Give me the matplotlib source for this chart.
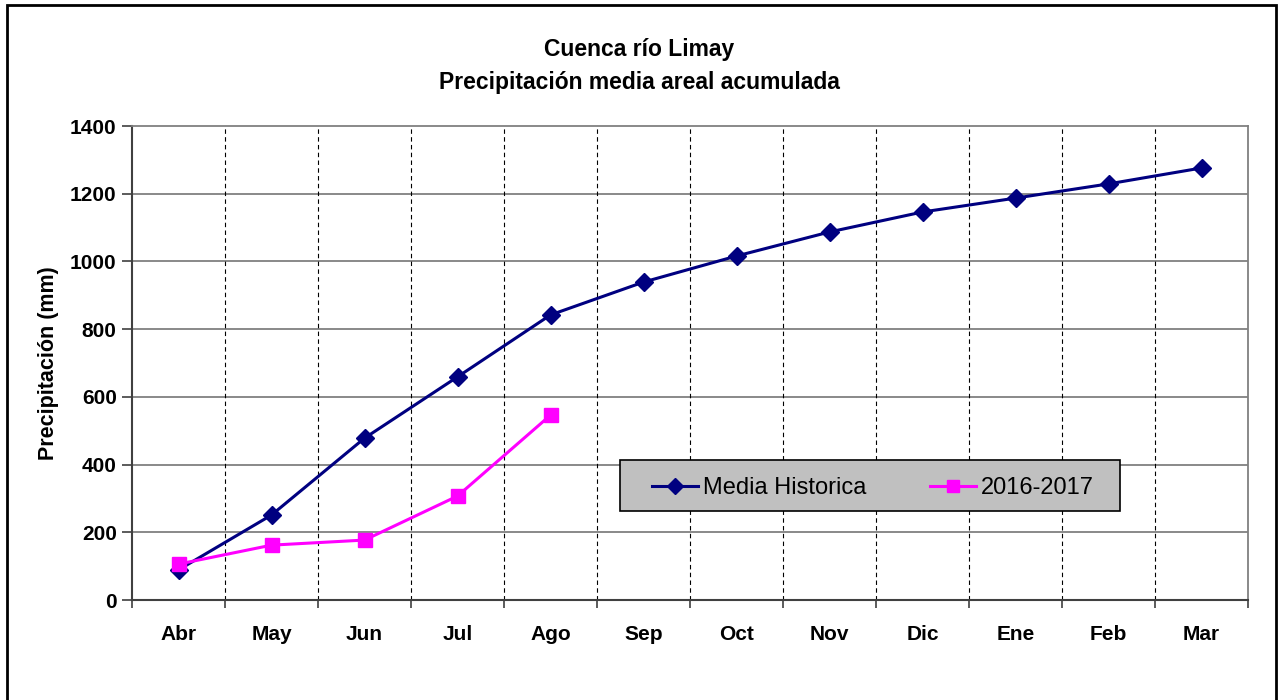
import matplotlib
matplotlib.use("Agg")
import matplotlib.pyplot as plt
from matplotlib.patches import Rectangle

meses = ["Abr", "May", "Jun", "Jul", "Ago", "Sep", "Oct", "Nov", "Dic", "Ene", "Feb", "Mar"]
media_historica = [89, 251, 478, 659, 842, 939, 1016, 1087, 1146, 1187, 1229, 1276]
temporada_2016 = [106, 162, 177, 307, 546]

plt.rcParams["font.family"] = ["Liberation Sans", "DejaVu Sans"]

fig = plt.figure(figsize=(12.78, 7.0), dpi=100)
ax = fig.add_axes([132 / 1278, 1 - 600 / 700, 1116 / 1278, 474 / 700])

x = list(range(len(meses)))

# grilla: horizontales solidas, verticales punteadas entre meses
for v in range(200, 1400, 200):
    ax.axhline(v, color="#808080", lw=1.3, zorder=1)
for b in range(len(meses) - 1):
    ax.axvline(b + 0.5, color="black", lw=0.8, ls=(0, (4, 3)), zorder=1)

ax.plot(x, media_historica, color="#000080", lw=2.2, marker="D", markersize=9,
        label="Media Historica", zorder=3)
ax.plot(x[:len(temporada_2016)], temporada_2016, color="#FF00FF", lw=2.2, marker="s",
        markersize=10, label="2016-2017", zorder=4)

ax.set_xlim(-0.5, len(meses) - 0.5)
ax.set_ylim(0, 1400)
ax.set_yticks(range(0, 1401, 200))
ax.set_yticklabels([str(v) for v in range(0, 1401, 200)], fontsize=15, fontweight="bold")

# ticks en los limites de cada mes, etiquetas centradas
ax.set_xticks([b - 0.5 for b in range(len(meses) + 1)])
ax.set_xticklabels([])
ax.set_xticks(x, minor=True)
ax.set_xticklabels(meses, minor=True, fontsize=15, fontweight="bold")
ax.tick_params(axis="x", which="major", length=6, width=1.2, color="#404040", direction="out")
ax.tick_params(axis="x", which="minor", length=0, pad=18)
ax.tick_params(axis="y", length=7, width=1.2, color="#404040", direction="out", pad=4)

for s in ["top", "right"]:
    ax.spines[s].set_color("#808080")
    ax.spines[s].set_linewidth(1.3)
for s in ["left", "bottom"]:
    ax.spines[s].set_color("#404040")
    ax.spines[s].set_linewidth(1.5)

ax.set_ylabel("Precipitación (mm)", fontsize=15.5, fontweight="bold", labelpad=8)

fig.text(0.5, 1 - 66 / 700, "Cuenca río Limay\nPrecipitación media areal acumulada",
         ha="center", va="center", fontsize=16.5, fontweight="bold", linespacing=1.55)

# caja gris de la leyenda
ax.add_patch(Rectangle((0.437, 0.188), 0.448, 0.107, transform=ax.transAxes,
                       facecolor="#C0C0C0", edgecolor="black", lw=1.2, zorder=5))
leg = ax.legend(loc="center", bbox_to_anchor=(0.664, 0.236), ncol=2, fontsize=17,
                frameon=False, handlelength=1.95, columnspacing=2.7, borderpad=0.3,
                handletextpad=0.2, markerscale=0.85)
leg.set_zorder(6)

# marco exterior
fig.patches.append(Rectangle((7 / 1278, -0.02), 1269 / 1278, 1.02 - 5 / 700,
                             transform=fig.transFigure, fill=False,
                             edgecolor="black", lw=2))

fig.savefig("out.png", dpi=100)
